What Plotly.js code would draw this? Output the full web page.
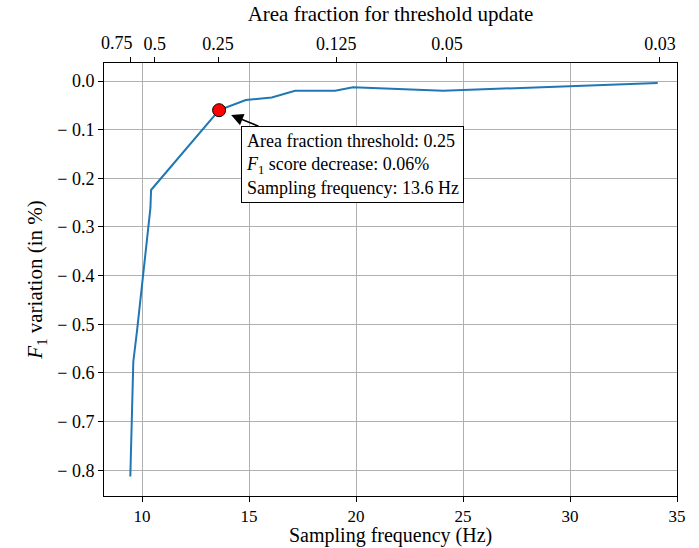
<!DOCTYPE html>
<html>
<head>
<meta charset="utf-8">
<script src="https://cdn.plot.ly/plotly-3.0.1.min.js"></script>
<style>html,body{margin:0;padding:0;background:#fff;}</style>
</head>
<body>
<div id="chart" style="width:699px;height:548px;"></div>
<script>
// Sampling frequency (Hz) and F1 variation (%)
const freq = [9.45, 9.59, 9.77, 9.95, 10.39, 10.42, 13.6, 14.85, 16.06, 17.15, 19.02, 19.86, 24.07, 34.1];
const f1Var = [-0.813, -0.577, -0.511, -0.439, -0.261, -0.224, -0.06, -0.039, -0.034, -0.02, -0.02, -0.013, -0.02, -0.004];

// Highlighted point
const hlFreq = [13.6];
const hlVar = [-0.06];

// Bottom axis ticks
const xTicks = [10, 15, 20, 25, 30, 35];
// Left axis ticks
const yTicks = [0, -0.1, -0.2, -0.3, -0.4, -0.5, -0.6, -0.7, -0.8];
const yTickText = ["0.0", "− 0.1", "− 0.2", "− 0.3", "− 0.4", "− 0.5", "− 0.6", "− 0.7", "− 0.8"];
// Top axis: area fraction thresholds at their sampling frequencies
const topTickFreq = [9.44, 10.59, 13.55, 19.07, 24.25, 34.2];
const topTickLabels = ["0.75", "0.5", "0.25", "0.125", "0.05", "0.03"];
// first top label is drawn shifted left of its tick (as in the reference)
const firstLabelFreq = 8.83;

const font = "Liberation Serif, Times New Roman, serif";
const xRange = [8.22, 35];
const yRange = [-0.853, 0.037];

const traces = [
  {
    x: freq, y: f1Var, type: "scatter", mode: "lines",
    line: {color: "#1f77b4", width: 2}, hoverinfo: "skip", showlegend: false
  },
  {
    x: hlFreq, y: hlVar, type: "scatter", mode: "markers",
    marker: {color: "#ff0000", size: 13, line: {color: "#000", width: 1}},
    showlegend: false
  },
  {
    x: topTickFreq, y: topTickFreq.map(() => null), xaxis: "x2", type: "scatter",
    mode: "markers", showlegend: false, hoverinfo: "skip"
  }
];

const layout = {
  width: 699, height: 548,
  margin: {l: 104, r: 22, t: 63, b: 52},
  paper_bgcolor: "#fff", plot_bgcolor: "#fff",
  font: {family: font, color: "#000", size: 19},
  showlegend: false,
  xaxis: {
    range: xRange, tickvals: xTicks, ticktext: xTicks.map(String),
    showgrid: true, gridcolor: "#b0b0b0", gridwidth: 1,
    zeroline: false, showline: true, linecolor: "#000", linewidth: 1,
    ticks: "outside", ticklen: 5, tickcolor: "#000", tickangle: 0,
    tickfont: {family: font, size: 17}
  },
  xaxis2: {
    overlaying: "x", side: "top", range: xRange,
    tickvals: topTickFreq, ticktext: [""].concat(topTickLabels.slice(1)),
    showgrid: false, zeroline: false, showline: true, linecolor: "#000", linewidth: 1,
    ticks: "outside", ticklen: 5, tickcolor: "#000", tickangle: 0,
    tickfont: {family: font, size: 18},
    title: {text: "Area fraction for threshold update", font: {family: font, size: 21}, standoff: 6}
  },
  yaxis: {
    range: yRange, tickvals: yTicks, ticktext: yTickText,
    showgrid: true, gridcolor: "#b0b0b0", gridwidth: 1,
    zeroline: false, showline: true, mirror: true, linecolor: "#000", linewidth: 1,
    ticks: "outside", ticklen: 5, tickcolor: "#000",
    tickfont: {family: font, size: 18},
    title: {text: "<i>F</i><sub>1</sub> variation (in %)", font: {family: font, size: 21}, standoff: 8}
  },
  annotations: [
    {
      x: 0.5, xref: "paper", y: 0, yref: "paper", yshift: -52,
      text: "Sampling frequency (Hz)", showarrow: false, xanchor: "center", yanchor: "bottom",
      borderpad: 0, font: {family: font, size: 20, color: "#000"}
    },
    {
      x: firstLabelFreq, xref: "x", y: 1, yref: "paper", yshift: 8,
      text: topTickLabels[0], showarrow: false, xanchor: "center", yanchor: "bottom",
      font: {family: font, size: 18, color: "#000"}
    },
    {
      x: hlFreq[0], y: hlVar[0], xref: "x", yref: "y",
      text: "Area fraction threshold: 0.25<br><i>F</i><sub>1</sub> score decrease: 0.06%<br>Sampling frequency: 13.6 Hz",
      align: "left", showarrow: true, arrowhead: 2, arrowsize: 1.6, arrowwidth: 1.5,
      arrowcolor: "#000", standoff: 13,
      ax: 133, ay: 54, xanchor: "center", yanchor: "middle",
      bgcolor: "#fff", bordercolor: "#000", borderwidth: 1, borderpad: 4,
      font: {family: font, size: 18, color: "#000"}
    }
  ]
};

Plotly.newPlot("chart", traces, layout, {displayModeBar: false, staticPlot: true});
</script>
</body>
</html>
